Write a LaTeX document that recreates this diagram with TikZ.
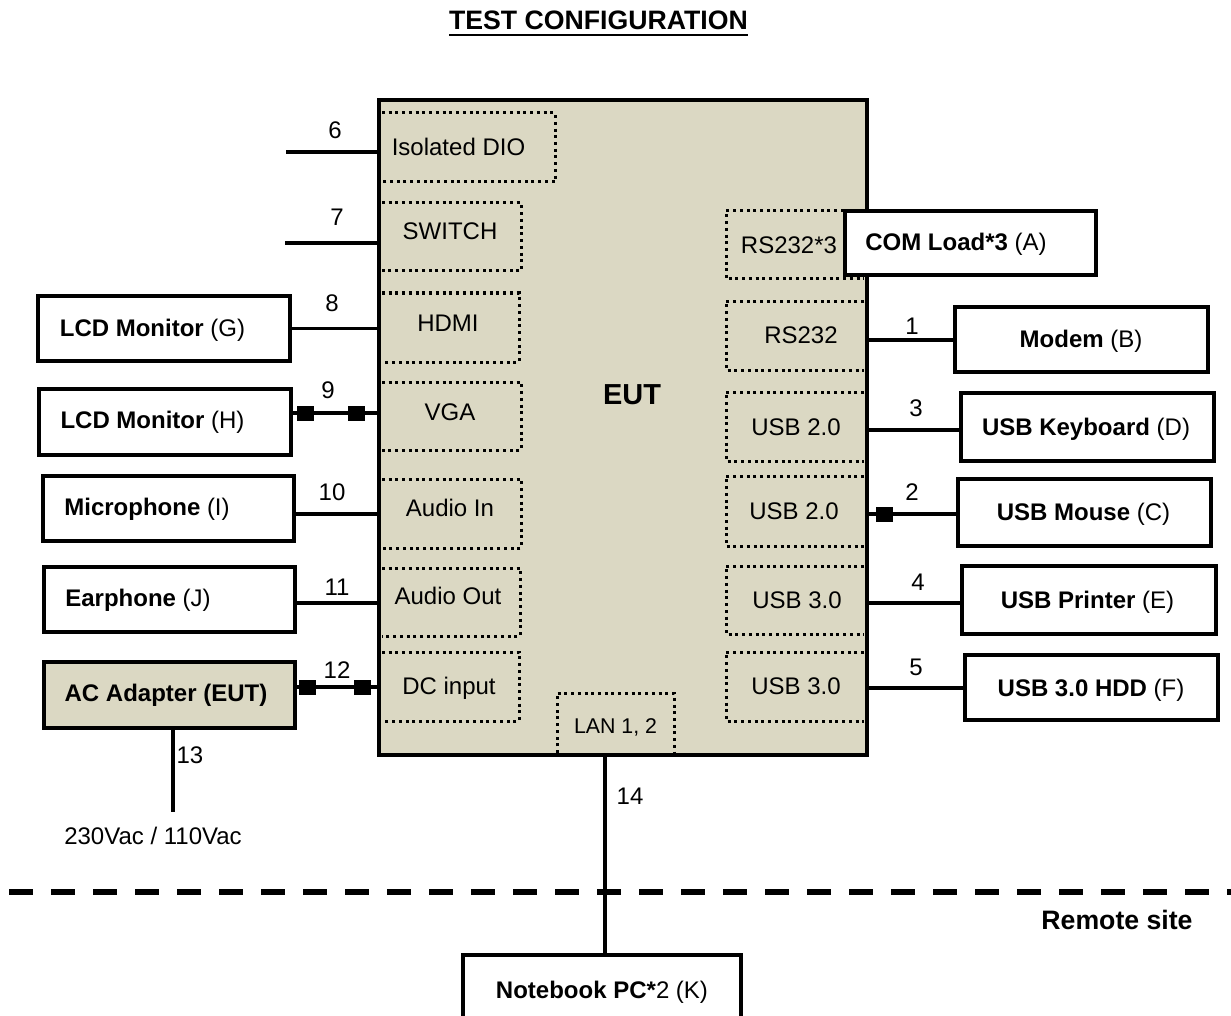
\documentclass[tikz,border=0pt]{standalone}
\usepackage{fontspec}
\setmainfont{Liberation Sans}
\definecolor{eutfill}{HTML}{DBD8C3}
\tikzset{
  x=0.75pt,y=-0.75pt,
  lbl/.style={inner sep=0pt,font=\fontsize{18}{21}\selectfont,text=black,anchor=center},
  conn/.style={line width=2.4pt,black},
  dev/.style={draw=black,line width=2.4pt,fill=white,inner sep=0pt,align=center},
  port/.style={line width=2.25pt,black,dash pattern=on 2.25pt off 2.8pt},
  plug/.style={fill=black,draw=none,minimum width=12.75pt,minimum height=11.25pt,inner sep=0pt},
}
\newcommand{\devbox}[6]{\node[dev,#6,minimum width={(#3-#2)*0.75pt},minimum height={(#5-#4)*0.75pt}] (#1) at ({(#2+#3)/2},{(#4+#5)/2}) {};}
\begin{document}
\begin{tikzpicture}
\useasboundingbox (0,0) rectangle (1231,1016);
\clip (0,0) rectangle (1231,1016);
% title
\node[inner sep=0pt,font=\fontsize{20}{23}\selectfont\bfseries] (title) at (598.5,20) {TEST CONFIGURATION};
\draw[line width=1.9pt] (449,35) -- (748,35);
% EUT
\node[draw=black,line width=2.8pt,fill=eutfill,minimum width=366pt,minimum height=491.25pt,inner sep=0pt] (eut) at (623,427.5) {};
% dashed boxes
\draw[port] (382,113) -- (555,113) -- (555,182) -- (382,182);
\draw[port] (382,203) -- (521,203) -- (521,271) -- (382,271);
\draw[port] (382,293) -- (519,293) -- (519,362) -- (382,362);
\draw[port] (382,382) -- (521,382) -- (521,450) -- (382,450);
\draw[port] (382,479) -- (521,479) -- (521,548) -- (382,548);
\draw[port] (382,568) -- (520,568) -- (520,636) -- (382,636);
\draw[port] (382,652) -- (519,652) -- (519,721) -- (382,721);
\draw[port] (557,753) -- (557,693) -- (674,693) -- (674,753);
\draw[port] (864,211) -- (726,211) -- (726,279) -- (864,279);
\draw[port] (864,301) -- (726,301) -- (726,370) -- (864,370);
\draw[port] (864,392) -- (726,392) -- (726,461) -- (864,461);
\draw[port] (864,476) -- (726,476) -- (726,546) -- (864,546);
\draw[port] (864,566) -- (726,566) -- (726,634) -- (864,634);
\draw[port] (864,652) -- (726,652) -- (726,721) -- (864,721);
% port labels
\node[lbl] (pdio) at (458.5,147) {Isolated DIO};
\node[lbl] (psw) at (450,231) {SWITCH};
\node[lbl] (phdmi) at (448,323) {HDMI};
\node[lbl] (pvga) at (450,412) {VGA};
\node[lbl] (pain) at (450,508) {Audio In};
\node[lbl] (paout) at (448,596) {Audio Out};
\node[lbl] (pdc) at (449,688) {DC input};
\node[lbl,font=\fontsize{16}{19}\selectfont] (plan) at (615.5,727.5) {LAN 1, 2};
\node[lbl] (prs3) at (789,245) {RS232*3};
\node[lbl] (prs) at (801,335) {RS232};
\node[lbl] (pu1) at (796,427) {USB 2.0};
\node[lbl] (pu2) at (794,511) {USB 2.0};
\node[lbl] (pu3) at (797,600) {USB 3.0};
\node[lbl] (pu4) at (796,686) {USB 3.0};
\node[inner sep=0pt,font=\fontsize{21.7}{25}\selectfont\bfseries] (eutl) at (632,394.5) {EUT};
% devices
\devbox{com}{845}{1096}{211}{275}{}
\devbox{modem}{955}{1208}{307}{372}{}
\devbox{kbd}{961}{1214}{393}{461}{}
\devbox{mouse}{958}{1211}{479}{546}{}
\devbox{printer}{962}{1216}{566}{634}{}
\devbox{hdd}{965}{1218}{655}{720}{}
\devbox{lcdg}{38}{290}{296}{361}{}
\devbox{lcdh}{39}{291}{389}{455}{}
\devbox{mic}{43}{294}{476}{541}{}
\devbox{ear}{44}{295}{567}{632}{}
\devbox{ac}{44}{295}{662}{728}{fill=eutfill}
\devbox{nb}{463}{741}{955}{1040}{}
% device labels
\node[lbl] (tcom) at (956,244) {\textbf{COM Load*3} (A)};
\node[lbl] (tmodem) at (1081,341) {\textbf{Modem} (B)};
\node[lbl] (tkbd) at (1086,429) {\textbf{USB Keyboard} (D)};
\node[lbl] (tmouse) at (1083.5,514) {\textbf{USB Mouse} (C)};
\node[lbl] (tprinter) at (1087.5,602) {\textbf{USB Printer} (E)};
\node[lbl] (thdd) at (1091,690) {\textbf{USB 3.0 HDD} (F)};
\node[lbl] (tlcdg) at (152.5,330) {\textbf{LCD Monitor} (G)};
\node[lbl] (tlcdh) at (152.5,422) {\textbf{LCD Monitor} (H)};
\node[lbl] (tmic) at (147,509) {\textbf{Microphone} (I)};
\node[lbl] (tear) at (138,600) {\textbf{Earphone} (J)};
\node[lbl] (tac) at (166,695) {\textbf{AC Adapter (EUT)}};
\node[lbl] (tnb) at (602,992) {\textbf{Notebook PC*}2 (K)};
% connector ends
\coordinate (f6) at (286,152);
\coordinate (f7) at (285,243);
\coordinate (f13) at (173,812);
\coordinate (ylan) at (605,755);
% left connectors
\draw[conn] (f6) -- (f6 -| eut.west);
\draw[conn] (f7) -- (f7 -| eut.west);
\draw[conn] (lcdg.east) -- (lcdg.east -| eut.west);
\coordinate (y9) at (300,413);
\draw[conn] (y9 -| lcdh.east) -- (y9 -| eut.west);
\coordinate (y10) at (300,514);
\draw[conn] (y10 -| mic.east) -- (y10 -| eut.west);
\coordinate (y11) at (300,603);
\draw[conn] (y11 -| ear.east) -- (y11 -| eut.west);
\coordinate (y12) at (300,687);
\draw[conn] (y12 -| ac.east) -- (y12 -| eut.west);
% right connectors
\coordinate (y1) at (900,340);
\draw[conn] (y1 -| eut.east) -- (y1 -| modem.west);
\coordinate (y3) at (900,430);
\draw[conn] (y3 -| eut.east) -- (y3 -| kbd.west);
\coordinate (y2) at (900,514);
\draw[conn] (y2 -| eut.east) -- (y2 -| mouse.west);
\coordinate (y4) at (900,603);
\draw[conn] (y4 -| eut.east) -- (y4 -| printer.west);
\coordinate (y5) at (900,688);
\draw[conn] (y5 -| eut.east) -- (y5 -| hdd.west);
% vertical connectors
\draw[conn] (ac.south -| f13) -- (f13);
\draw[conn] (ylan) -- (ylan |- nb.north);
% plugs
\node[plug] (pl1) at (305,413) {};
\node[plug] (pl2) at (356,413) {};
\node[plug] (pl3) at (307.5,687) {};
\node[plug] (pl4) at (362,687) {};
\node[plug] (pl5) at (884,514) {};
% numbers
\node[lbl] (n6) at (335,130) {6};
\node[lbl] (n7) at (337,217) {7};
\node[lbl] (n8) at (332,303) {8};
\node[lbl] (n9) at (328,390) {9};
\node[lbl] (n10) at (332,492) {10};
\node[lbl] (n11) at (337,587) {11};
\node[lbl] (n12) at (337,670) {12};
\node[lbl] (n13) at (190,755) {13};
\node[lbl] (n14) at (630,796) {14};
\node[lbl] (n1) at (912,326) {1};
\node[lbl] (n3) at (916,408) {3};
\node[lbl] (n2) at (912,492) {2};
\node[lbl] (n4) at (918,582) {4};
\node[lbl] (n5) at (916,667) {5};
\node[lbl] (vac) at (153,836) {230Vac / 110Vac};
% site divider
\draw[line width=4.3pt,dash pattern=on 18pt off 13.5pt,dash phase=24.5pt] (0,892) -- (1231,892);
\node[inner sep=0pt,font=\fontsize{20}{23}\selectfont\bfseries] (site) at (1117,920) {Remote site};
\end{tikzpicture}
\end{document}
